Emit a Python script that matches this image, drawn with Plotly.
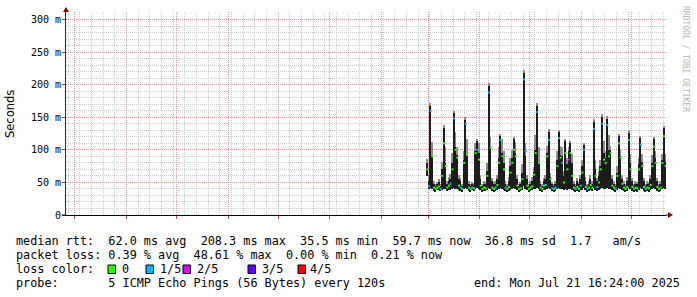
import pandas as pd
import plotly.graph_objects as go

# ---------------- data (daily consolidated SmokePing values, ms) ----------------
first_day = "2025-02-28 12:00"
smoke_lo = [60,40,42,40,37,36,38,38,37,39,40,40,37,38,39,40,42,40,40,38,
            37,36,40,42,40,37,36,38,37,40,42,40,38,36,37,37,39,42,40,37,
            36,37,38,40,42,40,39,37,36,37,39,40,42,40,38,36,37,39,44,40,
            38,36,37,38,40,40,42,40,37,36,38,38,40,42,40,37,36,37,40,42,
            40,40,38,40,39,40,40,39,37,36,37,36,38,39,42,38,36,37,38,37,
            42,39,37,38,40,42,40,40,42,40,40,38,37,36,39,42,40,38,37,36,
            37,42,40,37,36,37,36,39,42,40,37,36,37,36,38,40,42,40,37,36,
            37,40,42,40]
smoke_hi = [80,52,168,90,48,45,47,50,45,70,133,80,48,52,56,80,156,105,92,56,
            52,45,85,146,90,48,45,47,46,98,113,95,56,45,48,47,68,198,105,52,
            47,48,56,88,121,95,80,48,45,52,75,88,116,95,56,45,47,65,218,90,
            56,45,48,52,66,100,168,82,48,45,52,56,95,128,58,47,45,48,85,128,
            92,90,60,113,78,98,110,80,48,45,52,47,56,75,108,52,45,48,56,48,
            143,70,52,60,75,151,95,88,148,100,100,56,48,45,65,121,90,56,48,45,
            52,126,80,52,45,48,47,78,118,82,52,45,48,47,56,80,116,88,52,45,
            48,85,133,82]
smoke_max = [86,62,172,112,52,47,50,55,48,82,138,104,52,58,63,95,160,128,104,62,
             57,47,98,150,116,52,48,50,49,110,116,110,62,47,52,50,80,202,120,57,
             50,52,62,104,124,116,98,52,47,58,88,100,120,112,62,47,50,78,222,110,
             62,47,52,58,74,122,172,104,52,47,57,62,106,132,65,50,47,52,98,131,
             106,104,68,116,88,104,113,94,52,47,57,50,62,84,111,58,47,52,62,52,
             147,84,57,68,84,155,114,98,152,122,106,62,52,47,75,124,102,62,52,47,
             58,130,94,57,47,52,50,88,121,94,57,47,52,50,62,92,120,98,57,47,
             52,94,136,94]
median_rtt = [70,44,160,90,42,40,42,44,40,60,110,75,42,45,48,70,148,100,88,45,
              42,40,80,140,95,42,40,42,41,95,100,85,45,40,42,41,60,188,103,42,
              40,42,46,80,115,90,70,42,40,43,65,80,100,90,45,40,41,55,208,98,
              45,40,42,44,62,95,158,80,42,40,45,46,90,115,55,41,40,42,75,118,
              88,80,50,95,70,85,95,60,42,40,43,40,45,65,100,43,40,42,46,42,
              132,60,43,50,70,140,85,80,138,90,95,45,42,40,60,110,88,48,42,40,
              43,115,70,43,40,42,41,70,108,75,43,40,42,41,46,75,105,80,43,40,
              42,80,121,75]
loss_idx = [0,1,1,0,0,0,0,0,1,0,0,0,0,0,1,0,1,0,0,0,
            1,0,0,1,0,0,0,1,0,0,1,0,0,0,0,0,0,1,0,0,
            0,1,0,0,1,0,0,1,0,0,0,0,0,0,0,0,0,0,1,1,
            0,0,0,0,0,0,1,0,0,0,0,1,0,1,0,1,0,1,0,1,
            0,1,0,0,0,2,0,0,0,1,0,0,1,0,1,0,1,0,0,0,
            1,0,1,0,0,1,0,0,1,0,0,0,0,1,0,0,0,0,0,0,
            0,1,0,0,1,0,0,0,1,0,0,1,0,0,0,0,0,0,0,0,
            0,0,0,0]
loss_labels = ["0", "1/5", "2/5", "3/5", "4/5"]
loss_colors = ["#26ff00", "#00b8ff", "#dd00ff", "#5e00ff", "#ff0000"]

range_start = "2024-07-26 16:24"
range_end = "2025-07-21 16:24"
month_starts = ["2024-08-01", "2024-09-01", "2024-10-01", "2024-11-01", "2024-12-01",
                "2025-01-01", "2025-02-01", "2025-03-01", "2025-04-01", "2025-05-01",
                "2025-06-01", "2025-07-01"]
first_week_line = "2024-07-28"
label_times = ["2024-09-16", "2024-11-16", "2025-01-16", "2025-03-16", "2025-05-16", "2025-07-16"]
label_texts = ["September 2024", "November 2024", "January 2025", "March 2025", "May 2025", "July 2025"]
y_ticks = [0, 50, 100, 150, 200, 250, 300]
y_ticktext = ["0", "50 m", "100 m", "150 m", "200 m", "250 m", "300 m"]

legend_line1 = "median rtt:  62.0 ms avg  208.3 ms max  35.5 ms min  59.7 ms now  36.8 ms sd  1.7   am/s"
legend_line2 = "packet loss: 0.39 % avg  48.61 % max  0.00 % min  0.21 % now"
legend_line3 = "loss color:"
legend_line4 = "probe:       5 ICMP Echo Pings (56 Bytes) every 120s"
legend_end = "end: Mon Jul 21 16:24:00 2025"
watermark = "RRDTOOL / TOBI OETIKER"

# ---------------- figure ----------------
DAY_MS = 86400000
dates = pd.date_range(first_day, periods=len(median_rtt), freq="D")
week_lines = pd.date_range(first_week_line, range_end, freq="7D")
y_minor = list(range(0, 320, 10))
MONO = "DejaVu Sans Mono"
MGRID = "#dc9c9c"
GRID = "#cdcdcd"

L, R, T, B = 66, 31, 12, 82
W, H = 697, 297
PW, PH = W - L - R, H - T - B


def X(px):
    return (px - L) / PW


def Y(py):
    return (H - B - py) / PH


fig = go.Figure()
fig.add_trace(go.Bar(x=dates, y=[m - l for m, l in zip(smoke_max, smoke_lo)], base=smoke_lo,
                     width=DAY_MS * 0.9, marker=dict(color="#8c8c8c", line=dict(width=0)),
                     hoverinfo="skip"))
fig.add_trace(go.Bar(x=dates, y=[h - l for h, l in zip(smoke_hi, smoke_lo)], base=smoke_lo,
                     width=DAY_MS * 0.9, marker=dict(color="#1c1c1c", line=dict(width=0)),
                     hoverinfo="skip"))
for k, col in enumerate(loss_colors):
    xs = [d for d, li in zip(dates, loss_idx) if li == k]
    ys = [m for m, li in zip(median_rtt, loss_idx) if li == k]
    if xs:
        fig.add_trace(go.Scatter(x=xs, y=ys, mode="markers",
                                 marker=dict(symbol="square", size=2, color=col, line=dict(width=0))))

fig.update_layout(
    width=W, height=H, margin=dict(l=L, r=R, t=T, b=B),
    paper_bgcolor="white", plot_bgcolor="white", showlegend=False,
    barmode="overlay", bargap=0,
    xaxis=dict(type="date", range=[range_start, range_end], tickvals=month_starts,
               showticklabels=False, showgrid=True, gridcolor=MGRID, griddash="1px,1px", gridwidth=1,
               minor=dict(tickmode="array", tickvals=list(week_lines), showgrid=True, gridcolor=GRID,
                          griddash="1px,1px", gridwidth=1, ticks=""),
               showline=True, linecolor="black", linewidth=1, ticks="outside", ticklen=3,
               tickcolor="#b05050", zeroline=False),
    xaxis2=dict(type="date", range=[range_start, range_end], overlaying="x", anchor="y", side="bottom",
                tickvals=label_times, ticktext=label_texts, showgrid=False, ticks="", showline=False,
                zeroline=False, ticklabelstandoff=-2, tickfont=dict(family=MONO, size=10, color="black")),
    yaxis=dict(range=[0, PH / 0.6517], tickvals=y_ticks, ticktext=y_ticktext,
               showgrid=True, gridcolor=MGRID, griddash="1px,1px", gridwidth=1,
               minor=dict(tickmode="array", tickvals=y_minor, showgrid=True, gridcolor=GRID,
                          griddash="1px,1px", gridwidth=1, ticks=""),
               showline=True, linecolor="#2c2c2c", linewidth=1, ticks="outside", ticklen=3,
               tickcolor="#555555", zeroline=False, ticklabelstandoff=-1,
               tickfont=dict(family=MONO, size=10, color="black")),
    font=dict(family=MONO, color="black"),
)

# axis arrows
fig.add_shape(type="path", xref="paper", yref="paper", xsizemode="pixel", ysizemode="pixel",
              xanchor=0, yanchor=1, path="M -3,0 L 3,0 L 0,5 Z",
              fillcolor="#7f0000", line=dict(width=0))
fig.add_shape(type="path", xref="paper", yref="paper", xsizemode="pixel", ysizemode="pixel",
              xanchor=1, yanchor=0, path="M 0,0.5 L 2,0.5 L 2,-0.5 L 0,-0.5 Z",
              fillcolor="black", line=dict(width=0))
fig.add_shape(type="path", xref="paper", yref="paper", xsizemode="pixel", ysizemode="pixel",
              xanchor=1, yanchor=0, path="M 2,-3 L 2,3 L 7,0 Z",
              fillcolor="#7f0000", line=dict(width=0))
fig.add_shape(type="path", xref="paper", yref="paper", xsizemode="pixel", ysizemode="pixel",
              xanchor=0, yanchor=0, path="M -4,0.5 L 0,0.5 L 0,-0.5 L -4,-0.5 Z",
              fillcolor="black", line=dict(width=0))

# y title and watermark
fig.add_annotation(text="Seconds", textangle=-90, xref="paper", yref="paper", x=X(10), y=Y(114),
                   xanchor="center", yanchor="middle",
                   showarrow=False, font=dict(family="DejaVu Sans", size=11.5, color="black"))
fig.add_annotation(text=watermark, textangle=90, xref="paper", yref="paper", x=X(686), y=Y(59),
                   xanchor="center", yanchor="middle",
                   showarrow=False, font=dict(family=MONO, size=8, color="#b4b4b4"))

# legend text
LF = dict(family=MONO, size=11.8, color="black")
for txt, py in [(legend_line1, 240.7), (legend_line2, 255), (legend_line3, 269.3), (legend_line4, 283.3)]:
    fig.add_annotation(text=txt.replace(" ", "&nbsp;"), xref="paper", yref="paper", x=X(15), y=Y(py),
                       xanchor="left", yanchor="middle", showarrow=False, font=LF, borderpad=0)
fig.add_annotation(text=legend_end.replace(" ", "&nbsp;"), xref="paper", yref="paper", x=X(681), y=Y(283.3),
                   xanchor="right", yanchor="middle", showarrow=False, font=LF, borderpad=0)

box_x = [108, 146, 183, 248, 298]
lab_x = [122, 160, 197, 262, 310]
for bx, lx, lab, col in zip(box_x, lab_x, loss_labels, loss_colors):
    fig.add_shape(type="rect", xref="paper", yref="paper", x0=X(bx), x1=X(bx + 7.5), y0=Y(273.5), y1=Y(265),
                  fillcolor=col, line=dict(color="black", width=1))
    fig.add_annotation(text=lab, xref="paper", yref="paper", x=X(lx - 1), y=Y(269.3),
                       xanchor="left", yanchor="middle", showarrow=False, font=LF, borderpad=0)

fig.write_html("out.html")
